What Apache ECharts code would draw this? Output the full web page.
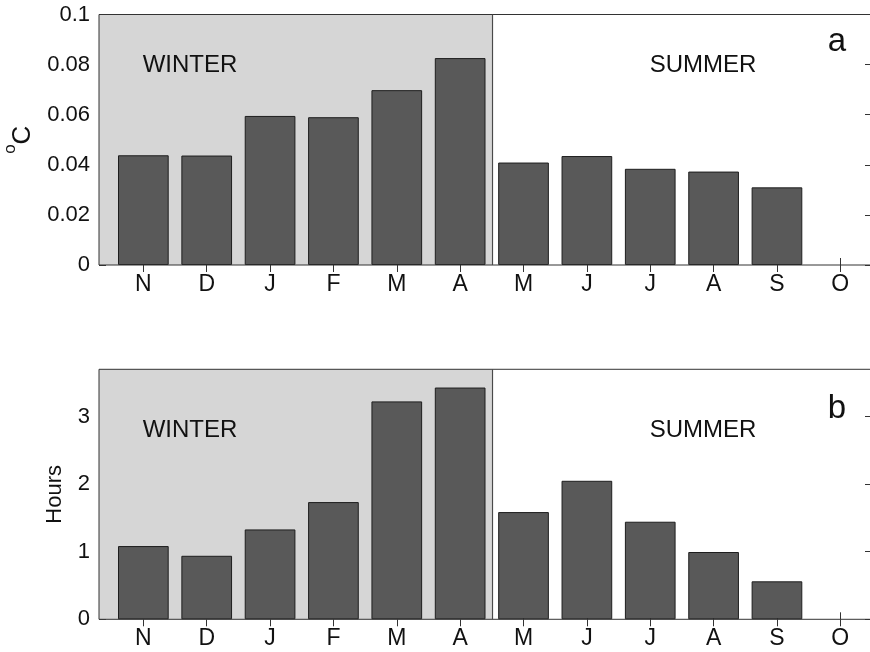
<!DOCTYPE html>
<html>
<head>
<meta charset="utf-8">
<script src="https://cdn.jsdelivr.net/npm/echarts@6/dist/echarts.min.js"></script>
<style>
  html, body { margin: 0; padding: 0; background: #ffffff; }
  #chart { width: 870px; height: 652px; }
</style>
</head>
<body>
<div id="chart"></div>
<script>
// Month positions and labels along the x axis (November .. October)
const months = ['N', 'D', 'J', 'F', 'M', 'A', 'M', 'J', 'J', 'A', 'S', 'O'];
const monthPos = [1, 2, 3, 4, 5, 6, 7, 8, 9, 10, 11, 12];

// Panel a: temperature (°C); panel b: duration (hours). No value for October.
const tempValues = [0.0438, 0.0437, 0.0595, 0.0590, 0.0698, 0.0826, 0.0409, 0.0435, 0.0384, 0.0373, 0.0310, null];
const hoursValues = [1.084, 0.940, 1.330, 1.735, 3.225, 3.430, 1.587, 2.050, 1.444, 0.996, 0.562, null];

// Axis ticks
const tempTicks = [0, 0.02, 0.04, 0.06, 0.08, 0.1];
const hoursTicks = [0, 1, 2, 3];

// Season boundary (between April and May)
const seasonSplit = 6.5;
const seasonNames = ['WINTER', 'SUMMER'];
const panelLetters = ['a', 'b'];

const xMin = 0.3, xMax = 12.5;
const FONT = '"Liberation Sans", Arial, Helvetica, sans-serif';
const TXT = '#111111';
const LINE = '#333333';

const grids = [
  { left: 99, top: 14.5, width: 773, height: 250.5 },
  { left: 99, top: 369.3, width: 773, height: 250 }
];
const yRanges = [[0, 0.1], [0, 3.7]];
const yTickSets = [tempTicks, hoursTicks];
const valueSets = [tempValues, hoursValues];

const barWidth = 0.8 * grids[0].width / (xMax - xMin);

const xAxes = [], yAxes = [], series = [];

grids.forEach((g, i) => {
  // bottom axis with month labels
  xAxes.push({
    type: 'value', gridIndex: i, position: 'bottom', min: xMin, max: xMax,
    axisLine: { show: false },
    splitLine: { show: false },
    axisTick: { inside: true, length: 7, customValues: monthPos, lineStyle: { color: LINE, width: 1 } },
    axisLabel: {
      customValues: monthPos, margin: 8,
      fontFamily: FONT, fontSize: 23, color: TXT,
      formatter: v => months[Math.round(v) - 1] || ''
    }
  });
  // top axis, ticks only
  xAxes.push({
    type: 'value', gridIndex: i, position: 'top', min: xMin, max: xMax,
    axisLine: { show: false },
    splitLine: { show: false },
    axisTick: { inside: true, length: 7, customValues: monthPos, lineStyle: { color: LINE, width: 1 } },
    axisLabel: { show: false }
  });
  const ticks = yTickSets[i];
  yAxes.push({
    type: 'value', gridIndex: i, position: 'left', min: yRanges[i][0], max: yRanges[i][1],
    axisLine: { show: false },
    splitLine: { show: false },
    axisTick: { inside: true, length: 7, customValues: ticks, lineStyle: { color: LINE, width: 1 } },
    axisLabel: { customValues: ticks, margin: 9, fontFamily: FONT, fontSize: 22, color: TXT },
    nameLocation: 'middle',
    nameRotate: 90,
    name: i === 0 ? '{sup|o}{c|C}' : 'Hours',
    nameGap: i === 0 ? 62 : 33,
    nameTextStyle: i === 0 ? {
      rich: {
        sup: { fontFamily: FONT, fontSize: 17, color: TXT, lineHeight: 17, verticalAlign: 'top' },
        c: { fontFamily: FONT, fontSize: 26, color: TXT, lineHeight: 34, verticalAlign: 'bottom' }
      }
    } : { fontFamily: FONT, fontSize: 22, color: TXT }
  });
  yAxes.push({
    type: 'value', gridIndex: i, position: 'right', min: yRanges[i][0], max: yRanges[i][1],
    axisLine: { show: false },
    splitLine: { show: false },
    axisTick: { inside: true, length: 7, customValues: ticks, lineStyle: { color: LINE, width: 1 } },
    axisLabel: { show: false }
  });

  series.push({
    type: 'bar',
    xAxisIndex: 2 * i,
    yAxisIndex: 2 * i,
    barWidth: barWidth,
    z: 2,
    silent: true,
    itemStyle: { color: '#595959', borderColor: '#1e1e1e', borderWidth: 1 },
    data: monthPos.map((p, k) => [p, valueSets[i][k]]).filter(d => d[1] !== null),
    markArea: {
      silent: true,
      itemStyle: { color: '#d6d6d6' },
      data: [[{ xAxis: xMin }, { xAxis: seasonSplit }]]
    },
    markLine: {
      silent: true,
      symbol: 'none',
      label: { show: false },
      lineStyle: { color: '#4a4a4a', width: 1.2, type: 'solid' },
      data: [{ xAxis: seasonSplit }]
    }
  });
});

// Season names and panel letters
const graphics = [];
const seasonY = [65, 430.5];
const letterY = [41.5, 408.5];
grids.forEach((g, i) => {
  graphics.push({
    type: 'text', x: 190, y: seasonY[i], z: 10,
    style: { text: seasonNames[0], font: '24px ' + FONT, fill: TXT, align: 'center', verticalAlign: 'middle' }
  });
  graphics.push({
    type: 'text', x: 703, y: seasonY[i], z: 10,
    style: { text: seasonNames[1], font: '24px ' + FONT, fill: TXT, align: 'center', verticalAlign: 'middle' }
  });
  graphics.push({
    type: 'text', x: 837, y: letterY[i], z: 10,
    style: { text: panelLetters[i], font: '33px ' + FONT, fill: TXT, align: 'center', verticalAlign: 'middle' }
  });
});

const chart = echarts.init(document.getElementById('chart'), null, { renderer: 'canvas' });
chart.setOption({
  animation: false,
  backgroundColor: '#ffffff',
  grid: grids.map(g => Object.assign({
    show: true, z: 5, backgroundColor: 'transparent', borderColor: LINE, borderWidth: 1,
    containLabel: false, outerBoundsMode: 'none'
  }, g)),
  xAxis: xAxes,
  yAxis: yAxes,
  series: series,
  graphic: graphics
});
</script>
</body>
</html>
